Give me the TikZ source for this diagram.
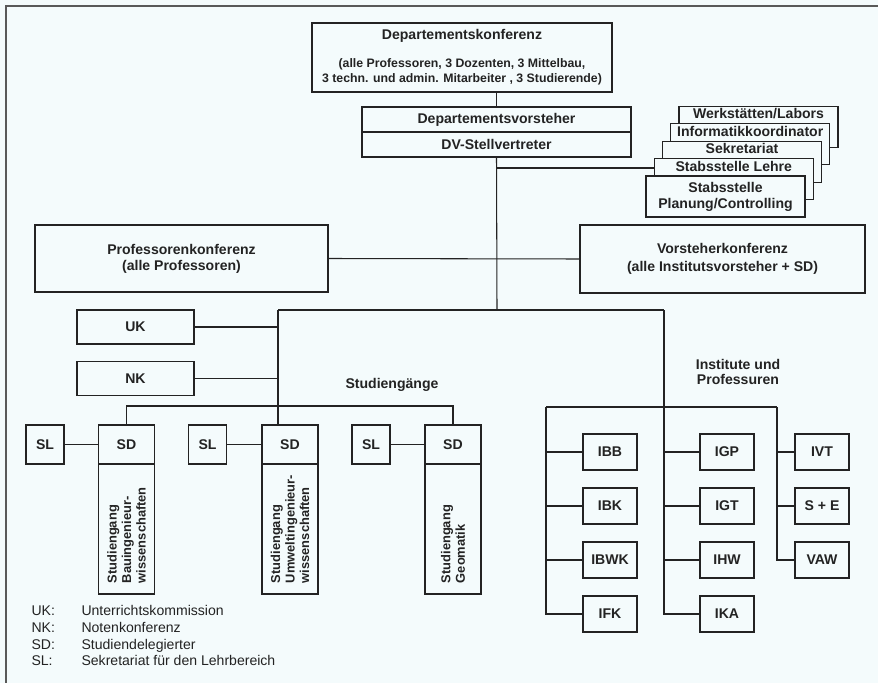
\documentclass[tikz,border=0pt]{standalone}
\usepackage{fontspec}
\setmainfont{Liberation Sans}
\usepackage{tikz}
\usetikzlibrary{positioning}
\definecolor{paper}{RGB}{244,251,252}
\definecolor{ink}{RGB}{35,35,35}
\newcommand\dksub{\fontsize{10.5}{12.8}\selectfont}

\begin{document}
\begin{tikzpicture}[x=0.03cm, y=-0.03cm, color=ink, line width=0.9pt,
  every node/.style={font=\bfseries\fontsize{12}{13.5}\selectfont, align=center, inner sep=2pt},
  box/.style={draw, fill=paper},
  stab/.style={minimum width=4.77cm, minimum height=1.23cm},
  inst/.style={minimum width=1.62cm, minimum height=1.08cm},
  legend/.style={font=\fontsize{12}{13.5}\selectfont, inner sep=0pt, anchor=base west}]
\useasboundingbox (0,0) rectangle (878,683);
\fill[paper] (0,0) rectangle (878,683);
\draw[gray!70!black, line width=1pt] (878,6) -- (6,6) -- (6,683);

% Leitung
\node (dk) [box, minimum width=9cm, minimum height=2.07cm] at (462,57.5) {Departementskonferenz\\[10pt]\dksub (alle Professoren, 3 Dozenten, 3 Mittelbau,\\\dksub 3 techn. und admin. Mitarbeiter , 3 Studierende)};
\node (dvv) [box, minimum width=8.07cm, minimum height=0.75cm] at (496.5,119.5) {Departementsvorsteher};
\node (dvs) [box, minimum width=8.07cm, minimum height=0.75cm] at (496.5,144.5) {DV-Stellvertreter};
\draw (dk.south -| dvv.north) -- (dvv.north);

% Stabsstellen
\node (werk) [box, stab] at (758.5,126.9) {};
\node (werkt) [below=0pt of werk.north] {Werkstätten/Labors};
\node (info) [box, stab] at (750.25,144.3) {};
\node (infot) [below=0pt of info.north] {Informatikkoordinator};
\node (sekr) [box, stab] at (742,161.7) {};
\node (sekrt) [below=0pt of sekr.north] {Sekretariat};
\node (lehre) [box, stab] at (733.75,179.1) {};
\node (lehret) [below=0pt of lehre.north] {Stabsstelle Lehre};
\node (plan) [box, stab] at (725.5,196.5) {Stabsstelle\\Planung/Controlling};

\coordinate (lj) at (497,168);
\coordinate (hub) at (497,310);
\draw (dvs.south) -- (hub);
\draw (lj) -- (lj -| lehre.west);

% Konferenzen
\node (pk) [box, minimum width=8.79cm, minimum height=2.01cm] at (181.5,258.5) {Professorenkonferenz\\(alle Professoren)};
\node (vk) [box, minimum width=8.55cm, minimum height=2.04cm] at (722.5,259) {Vorsteherkonferenz\\[2pt](alle Institutsvorsteher + SD)};
\draw (pk.east) -- (vk.west);

\coordinate (sg) at (278,310);
\coordinate (it) at (664,310);
\draw (sg) -- (it);

% Studiengaenge
\node (uk) [box, minimum width=3.51cm, minimum height=1.02cm] at (135.5,327) {UK};
\node (nk) [box, minimum width=3.51cm, minimum height=1.02cm] at (135.5,378.5) {NK};
\draw (uk.east) -- (uk.east -| sg);
\draw (nk.east) -- (nk.east -| sg);
\node (sgl) at (392,385) {Studiengänge};

\coordinate (sgbar) at (278,406);
\foreach \i/\x/\s/\t in {1/126.5/45/{Studiengang\\Bauingenieur-\\wissenschaften},
    2/290/207.5/{Studiengang\\Umweltingenieur-\\wissenschaften},
    3/453/371/{Studiengang\\Geomatik}} {
  \node (sd\i) [box, minimum width=1.68cm, minimum height=1.17cm] at (\x,444.5) {SD};
  \node (sg\i) [box, minimum width=1.68cm, minimum height=3.9cm] at (\x,529) {};
  \node (sl\i) [box, minimum width=1.14cm, minimum height=1.17cm] at (\s,444.5) {SL};
  \node (sgt\i) [rotate=90, anchor=west, align=left, font=\bfseries\fontsize{11}{12.3}\selectfont] at (\x,586) {\t};
  \draw (sl\i) -- (sd\i);
}
\draw (sd1.north) |- (sgbar) -| (sd3.north);
\draw (sg) -- (sd2.north -| sg);

% Institute
\node (itlbl) at (738,372) {Institute und\\Professuren};
\coordinate (itl) at (546,407);
\coordinate (itr) at (777,407);
\draw (itl) -- (itr);
\foreach \n/\txt/\x/\y in {ibb/IBB/610/452, ibk/IBK/610/506, ibwk/IBWK/610/560, ifk/IFK/610/614,
    igp/IGP/727/452, igt/IGT/727/506, ihw/IHW/727/560, ika/IKA/727/614,
    ivt/IVT/822/452, se/S + E/822/506, vaw/VAW/822/560}
  \node (\n) [box, inst] at (\x,\y) {\txt};
\draw (itl) |- (ifk.west);
\foreach \n in {ibb,ibk,ibwk} \draw (\n.west -| itl) -- (\n.west);
\draw (it) |- (ika.west);
\foreach \n in {igp,igt,ihw} \draw (\n.west -| it) -- (\n.west);
\draw (itr) |- (vaw.west);
\foreach \n in {ivt,se} \draw (\n.west -| itr) -- (\n.west);

% Legende
\foreach \k/\txt/\y in {UK/Unterrichtskommission/615, NK/Notenkonferenz/632,
    SD/Studiendelegierter/649, SL/Sekretariat für den Lehrbereich/665} {
  \node (k\k) [legend] at (31,\y) {\k:};
  \node (t\k) [legend] at (81,\y) {\txt};
}
\end{tikzpicture}
\end{document}
